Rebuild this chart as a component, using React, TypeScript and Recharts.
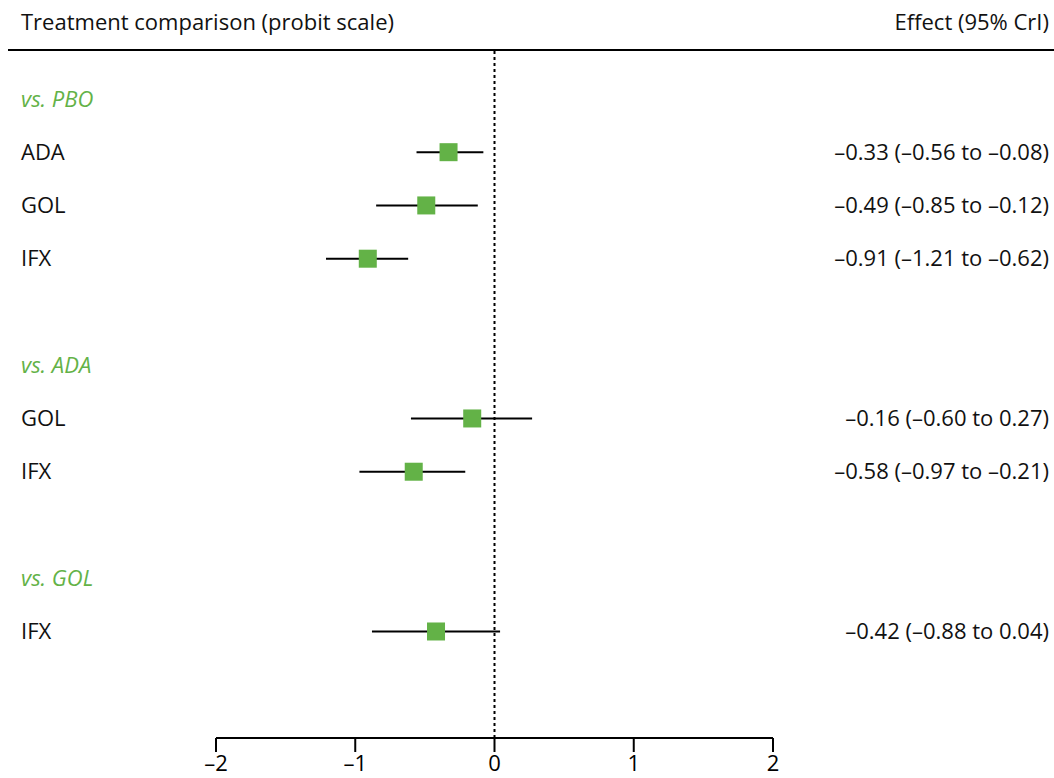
import { ScatterChart, Scatter, XAxis, YAxis, ReferenceLine, ErrorBar } from "recharts";

const groupLabels = ["vs. PBO", "vs. ADA", "vs. GOL"];
const groupRows = [0, 5, 9];

const treatments = ["ADA", "GOL", "IFX", "GOL", "IFX", "IFX"];
const treatmentRows = [1, 2, 3, 6, 7, 10];
const estimates = [-0.33, -0.49, -0.91, -0.16, -0.58, -0.42];
const lower = [-0.56, -0.85, -1.21, -0.6, -0.97, -0.88];
const upper = [-0.08, -0.12, -0.62, 0.27, -0.21, 0.04];

const xTicks = [-2, -1, 0, 1, 2];

const GREEN = "#63b247";
const FONT = "'Open Sans', 'Noto Sans', sans-serif";
const FS = 22;

const dash = (v: number) => v.toFixed(2).replace("-", "\u2013");

const rows = treatments.map((name, i) => ({
  name,
  row: treatmentRows[i],
  est: estimates[i],
  err: [estimates[i] - lower[i], upper[i] - estimates[i]],
  text: `${dash(estimates[i])} (${dash(lower[i])} to ${dash(upper[i])})`,
}));

const groups = groupLabels.map((label, i) => ({ label, row: groupRows[i], est: 0 }));

const Square = (props: any) => {
  const { cx, cy } = props;
  const s = 18;
  return <rect x={cx - s / 2} y={cy - s / 2} width={s} height={s} fill={GREEN} />;
};

const RowText = (props: any) => {
  const { cy, payload } = props;
  return (
    <g>
      <text x={21} y={cy} dy="0.35em" fontSize={FS} fontFamily={FONT} fill="#111">
        {payload.name}
      </text>
      <text x={1049} y={cy} dy="0.35em" fontSize={FS} fontFamily={FONT} fill="#111" textAnchor="end">
        {payload.text}
      </text>
    </g>
  );
};

const GroupText = (props: any) => {
  const { cy, payload } = props;
  return (
    <text x={21} y={cy} dy="0.35em" fontSize={FS} fontFamily={FONT} fill={GREEN} fontStyle="italic">
      {payload.label}
    </text>
  );
};

export default function App() {
  return (
    <div style={{ position: "absolute", left: 0, top: 0, width: 1054, height: 778, background: "#fff" }}>
      <div
        style={{
          position: "absolute",
          left: 8,
          top: 0,
          width: 1046,
          height: 49,
          borderBottom: "2px solid #000",
          fontFamily: FONT,
          fontSize: FS,
          color: "#111",
        }}
      >
        <span style={{ position: "absolute", left: 13, top: 6 }}>Treatment comparison (probit scale)</span>
        <span style={{ position: "absolute", right: 5, top: 6 }}>Effect (95% CrI)</span>
      </div>
      <ScatterChart width={1054} height={778} margin={{ top: 51, right: 281, bottom: 0, left: 216 }}>
        <XAxis
          type="number"
          dataKey="est"
          domain={[-2, 2]}
          ticks={xTicks}
          tickFormatter={(v: number) => String(v).replace("-", "\u2013")}
          axisLine={{ stroke: "#000", strokeWidth: 2 }}
          tickLine={{ stroke: "#000", strokeWidth: 2 }}
          tickSize={14}
          tick={{ fill: "#000", fontSize: 22, fontFamily: FONT, dy: 1 }}
          height={40}
        />
        <YAxis type="number" dataKey="row" domain={[-0.9, 12]} reversed hide />
        <ReferenceLine x={0} stroke="#000" strokeWidth={2} strokeDasharray="3 3" />
        <Scatter data={groups} shape={GroupText} isAnimationActive={false} />
        <Scatter data={rows} shape={RowText} isAnimationActive={false} />
        <Scatter data={rows} shape={Square} isAnimationActive={false}>
          <ErrorBar dataKey="err" direction="x" width={0} stroke="#000" strokeWidth={2} />
        </Scatter>
      </ScatterChart>
    </div>
  );
}
